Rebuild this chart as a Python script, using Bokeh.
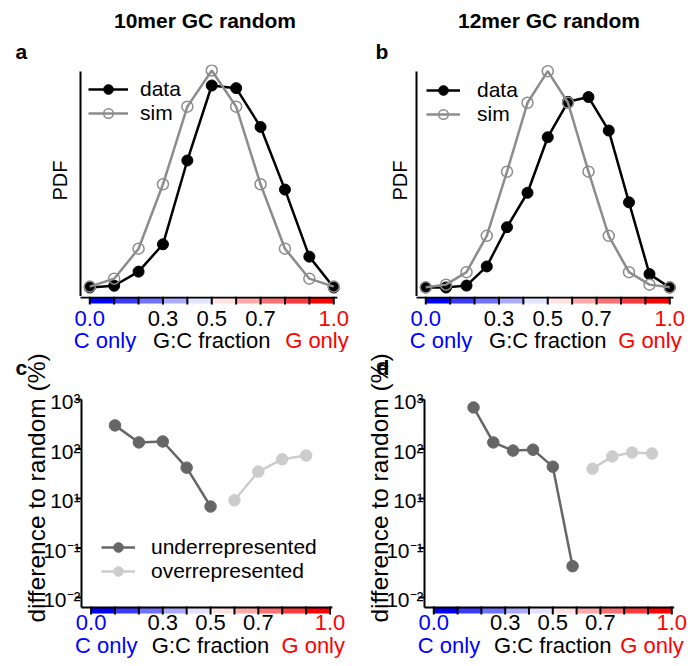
import math
from bokeh.plotting import figure
from bokeh.models import (Range1d, FixedTicker, Legend, LegendItem, ColumnDataSource, LogScale)
from bokeh.layouts import column, row
from bokeh.embed import file_html
from bokeh.resources import INLINE
from bokeh.core.properties import value

FONT = "Liberation Sans"
SIM = "#8c8c8c"
UNDER = "#666666"
OVER = "#cccccc"
TXT_SHIFT = 0.33  # em: the text glyph baseline sits this much lower than asked

# ---------------- data ----------------
gc10 = [0.0, 0.1, 0.2, 0.3, 0.4, 0.5, 0.6, 0.7, 0.8, 0.9, 1.0]
pdf10_data = [0.000, 0.002, 0.018, 0.049, 0.144, 0.229, 0.226, 0.182, 0.111, 0.035, 0.000]
pdf10_sim = [0.001, 0.010, 0.044, 0.117, 0.205, 0.246, 0.205, 0.117, 0.044, 0.010, 0.001]

gc12 = [0.0, 0.083, 0.167, 0.25, 0.333, 0.417, 0.5, 0.583, 0.667, 0.75, 0.833, 0.917, 1.0]
pdf12_data = [0.000, 0.000, 0.002, 0.022, 0.063, 0.099, 0.157, 0.194, 0.199, 0.164, 0.089, 0.014, 0.000]
pdf12_sim = [0.0002, 0.003, 0.016, 0.054, 0.121, 0.193, 0.226, 0.193, 0.121, 0.054, 0.016, 0.003, 0.0002]

c_under_x = [0.1, 0.2, 0.3, 0.4, 0.5]
c_under_y = [300, 136, 142, 42, 6.9]
c_over_x = [0.6, 0.7, 0.8, 0.9]
c_over_y = [9.2, 35, 62, 74]

d_under_x = [0.167, 0.25, 0.333, 0.417, 0.5, 0.583]
d_under_y = [690, 136, 93, 97, 44, 0.43]
d_over_x = [0.667, 0.75, 0.833, 0.917]
d_over_y = [40, 71, 85, 81]

strip_ticks = [0.0, 0.1, 0.2, 0.3, 0.4, 0.5, 0.6, 0.7, 0.8, 0.9, 1.0]
strip_colors = ["#0000ff", "#3939ff", "#7171ff", "#aaaaff", "#e3e3ff",
                "#ffe3e3", "#ffaaaa", "#ff7171", "#ff3939", "#ff0000"]
num_ticks = [0.0, 0.3, 0.5, 0.7, 1.0]
num_labels = ["0.0", "0.3", "0.5", "0.7", "1.0"]
num_colors = ["#0000ff", "black", "black", "black", "#ff0000"]
end_pos = [0.0, 0.5, 1.0]
end_labels = ["C only", "G:C fraction", "G only"]
end_colors = ["#0000ff", "black", "#ff0000"]
end_align = ["left", "center", "right"]

log_ticks = [0.1, 1, 10, 100, 1000]
log_tick_labels = ["10\u207b\u00b2", "10\u207b\u00b9", "10\u00b9", "10\u00b2", "10\u00b3"]


def sh(size):
    return TXT_SHIFT * size


# ---------------- helpers ----------------
def blank(width, height):
    """A figure whose frame is the whole canvas, in pixel units (y downwards)."""
    f = figure(width=width, height=height, x_range=Range1d(0, width),
               y_range=Range1d(height, 0), x_axis_location=None,
               y_axis_location=None, toolbar_location=None, tools="",
               output_backend="svg", min_border=0, outline_line_color=None)
    f.grid.visible = False
    return f


def put_text(f, x, y, text, size, bold=False, align="left", angle=0.0):
    f.text(x=[x], y=[y], text=[text], angle=angle, text_font=value(FONT),
           text_font_size=value(f"{size}px"), text_font_style="bold" if bold else "normal",
           text_align=align, text_baseline="alphabetic", text_color="black")


def strip_glyphs(s, axis_start, axis_end, line_y, num_y, end_y, end_offset, xname="default"):
    s.quad(left=strip_ticks[:-1], right=strip_ticks[1:], top=line_y, bottom=line_y + 6,
           fill_color=strip_colors, line_color=None, x_range_name=xname)
    s.segment(x0=[axis_start], x1=[axis_end], y0=[line_y], y1=[line_y],
              line_color="black", line_width=2, x_range_name=xname)
    s.segment(x0=strip_ticks, x1=strip_ticks, y0=line_y - 1, y1=line_y + 7,
              line_color="black", line_width=2, x_range_name=xname)
    src1 = ColumnDataSource(dict(x=num_ticks, t=num_labels, c=num_colors))
    s.text(x="x", y=num_y - sh(22), text="t", text_color="c", source=src1,
           text_font=value(FONT), text_font_size=value("22px"),
           text_align="center", text_baseline="alphabetic", x_range_name=xname)
    src2 = ColumnDataSource(dict(x=end_pos, t=end_labels, c=end_colors,
                                 a=end_align, o=end_offset))
    s.text(x="x", y=end_y - sh(22), text="t", text_color="c", text_align="a", x_offset="o",
           source=src2, text_font=value(FONT), text_font_size=value("22px"),
           text_baseline="alphabetic", x_range_name=xname)


def strip_panel(width, left, frame_w, height, main_rng, axis_end, num_y, end_y, end_offset):
    upx = (main_rng.end - main_rng.start) / frame_w
    x0 = main_rng.start - left * upx
    x1 = main_rng.start + (width - left) * upx
    s = figure(width=width, height=height, x_range=Range1d(x0, x1),
               y_range=Range1d(height, 0), x_axis_location=None,
               y_axis_location=None, toolbar_location=None, tools="",
               output_backend="svg", min_border=0, outline_line_color=None)
    s.grid.visible = False
    strip_glyphs(s, main_rng.start, axis_end, 1, num_y, end_y, end_offset)
    return s


def style_legend(lg, glyph_w, standoff):
    lg.background_fill_alpha = 0
    lg.border_line_color = None
    lg.label_text_font = FONT
    lg.label_text_font_size = "21px"
    lg.label_text_color = "black"
    lg.glyph_width = glyph_w
    lg.glyph_height = 24
    lg.label_height = 24
    lg.label_standoff = standoff
    lg.spacing = 0
    lg.padding = 0
    lg.margin = 0


def pdf_panel(width, left, frame_w, x_rng, y_rng, y_top, xs, data, sim,
              leg_loc, glyph_w, standoff, ylab_standoff):
    p = figure(width=width, height=232, x_range=x_rng, y_range=y_rng,
               x_axis_location=None, toolbar_location=None, tools="", output_backend="svg",
               min_border_left=left, min_border_right=width - left - frame_w,
               min_border_top=0, min_border_bottom=0, outline_line_color=None)
    p.grid.visible = False
    ax = p.yaxis[0]
    ax.axis_line_width = 2
    ax.axis_line_color = "black"
    ax.ticker = FixedTicker(ticks=[])
    ax.major_tick_out = 0
    ax.major_label_standoff = 0
    ax.bounds = (y_rng.start, y_top)
    ax.axis_label = "PDF"
    ax.axis_label_text_font = FONT
    ax.axis_label_text_font_style = "normal"
    ax.axis_label_text_color = "black"
    ax.axis_label_text_font_size = "20px"
    ax.axis_label_standoff = ylab_standoff
    r1 = p.line(xs, data, line_color="black", line_width=2.5)
    r2 = p.scatter(xs, data, marker="circle", size=11, fill_color="black", line_color="black")
    r3 = p.line(xs, sim, line_color=SIM, line_width=2.5)
    r4 = p.scatter(xs, sim, marker="circle", size=11, fill_color=None, line_color=SIM, line_width=1.5)
    lg = Legend(items=[LegendItem(label="data", renderers=[r1, r2]),
                       LegendItem(label="sim", renderers=[r3, r4])], location=leg_loc)
    style_legend(lg, glyph_w, standoff)
    p.add_layout(lg)
    return p


def log_panel(W, H, axis_x, data0_x, px_unit, top_y, bot_y, under_x, under_y, over_x, over_y,
              letter, letter_x, ylab_x, end_offset, with_legend):
    """Whole panel in one canvas; data go through named ranges / a log scale."""
    p = blank(W, H)
    dec_px = (bot_y - top_y) / math.log10(1000 / 0.063)
    gx = Range1d(-data0_x / px_unit, (W - data0_x) / px_unit)
    gy = Range1d(10 ** (3 - (H - top_y) / dec_px), 10 ** (3 + top_y / dec_px))
    p.extra_x_ranges = {"gx": gx}
    p.extra_y_ranges = {"gy": gy}
    p.extra_y_scales = {"gy": LogScale()}
    # y axis
    p.segment(x0=[axis_x], x1=[axis_x], y0=[top_y], y1=[bot_y], line_color="black", line_width=2)
    p.segment(x0=axis_x - 6, x1=axis_x, y0=log_ticks, y1=log_ticks, line_color="black",
              line_width=2, y_range_name="gy")
    p.text(x=axis_x - 1, y=log_ticks, text=log_tick_labels, y_range_name="gy",
           y_offset=2, text_font=value(FONT), text_font_size=value("21px"),
           text_align="right", text_baseline="alphabetic", text_color="black")
    # data
    u1 = p.line(under_x, under_y, line_color=UNDER, line_width=2.5, x_range_name="gx", y_range_name="gy")
    u2 = p.scatter(under_x, under_y, marker="circle", size=11.5, fill_color=UNDER, line_color=UNDER,
                   x_range_name="gx", y_range_name="gy")
    o1 = p.line(over_x, over_y, line_color=OVER, line_width=2.5, x_range_name="gx", y_range_name="gy")
    o2 = p.scatter(over_x, over_y, marker="circle", size=11.5, fill_color=OVER, line_color=OVER,
                   x_range_name="gx", y_range_name="gy")
    if with_legend:
        lg = Legend(items=[LegendItem(label="underrepresented", renderers=[u1, u2]),
                           LegendItem(label="overrepresented", renderers=[o1, o2])],
                    location=(101, 83))
        style_legend(lg, 34, 16)
        p.add_layout(lg)
    # colour strip under the axis
    strip_glyphs(p, (axis_x - data0_x) / px_unit, 1.01, bot_y, bot_y + 22, bot_y + 45,
                 end_offset, xname="gx")
    # letter and y label
    put_text(p, letter_x, 22 - sh(21), letter, 21, bold=True)
    put_text(p, ylab_x - sh(24.5), 135.5, "difference to random (%)", 24.5, align="center",
             angle=math.pi / 2)
    return p


# ---------------- row 1 : panels a, b ----------------
ha = blank(350, 64)
put_text(ha, 204.5, 27 - sh(21), "10mer GC random", 21, bold=True, align="center")
put_text(ha, 15, 58 - sh(21), "a", 21, bold=True)
hb = blank(338, 64)
put_text(hb, 198.5, 27 - sh(21), "12mer GC random", 21, bold=True, align="center")
put_text(hb, 25, 58 - sh(21), "b", 21, bold=True)

xr_a = Range1d(-0.038, 1.04)
xr_b = Range1d(-0.038, 1.04)
pa = pdf_panel(350, 80, 263, xr_a, Range1d(-0.0102, 0.2528), 0.2449, gc10, pdf10_data, pdf10_sim,
               (8, 171), 40, 12, 10)
pb = pdf_panel(338, 66, 263, xr_b, Range1d(-0.0094, 0.233), 0.2257, gc12, pdf12_data, pdf12_sim,
               (10, 170), 34, 17, 6)

sa = strip_panel(350, 80, 263, 56, xr_a, 1.015, 29, 51, [-16, 0, 15])
sb = strip_panel(338, 66, 263, 56, xr_b, 1.015, 29, 51, [-16, 0, 12])

# ---------------- row 2 : panels c, d ----------------
pc = log_panel(350, 314, 81, 90.6, 238.9, 47, 255, c_under_x, c_under_y, c_over_x, c_over_y,
               "c", 15, 44, [-16, 0, 15], True)
pd = log_panel(338, 314, 74, 83.3, 238.0, 47, 255, d_under_x, d_under_y, d_over_x, d_over_y,
               "d", 26, 37, [-16, 0, 12], False)

layout = column(row(ha, hb), row(pa, pb), row(sa, sb), row(pc, pd))

with open("out.html", "w") as f:
    f.write(file_html(layout, INLINE))
